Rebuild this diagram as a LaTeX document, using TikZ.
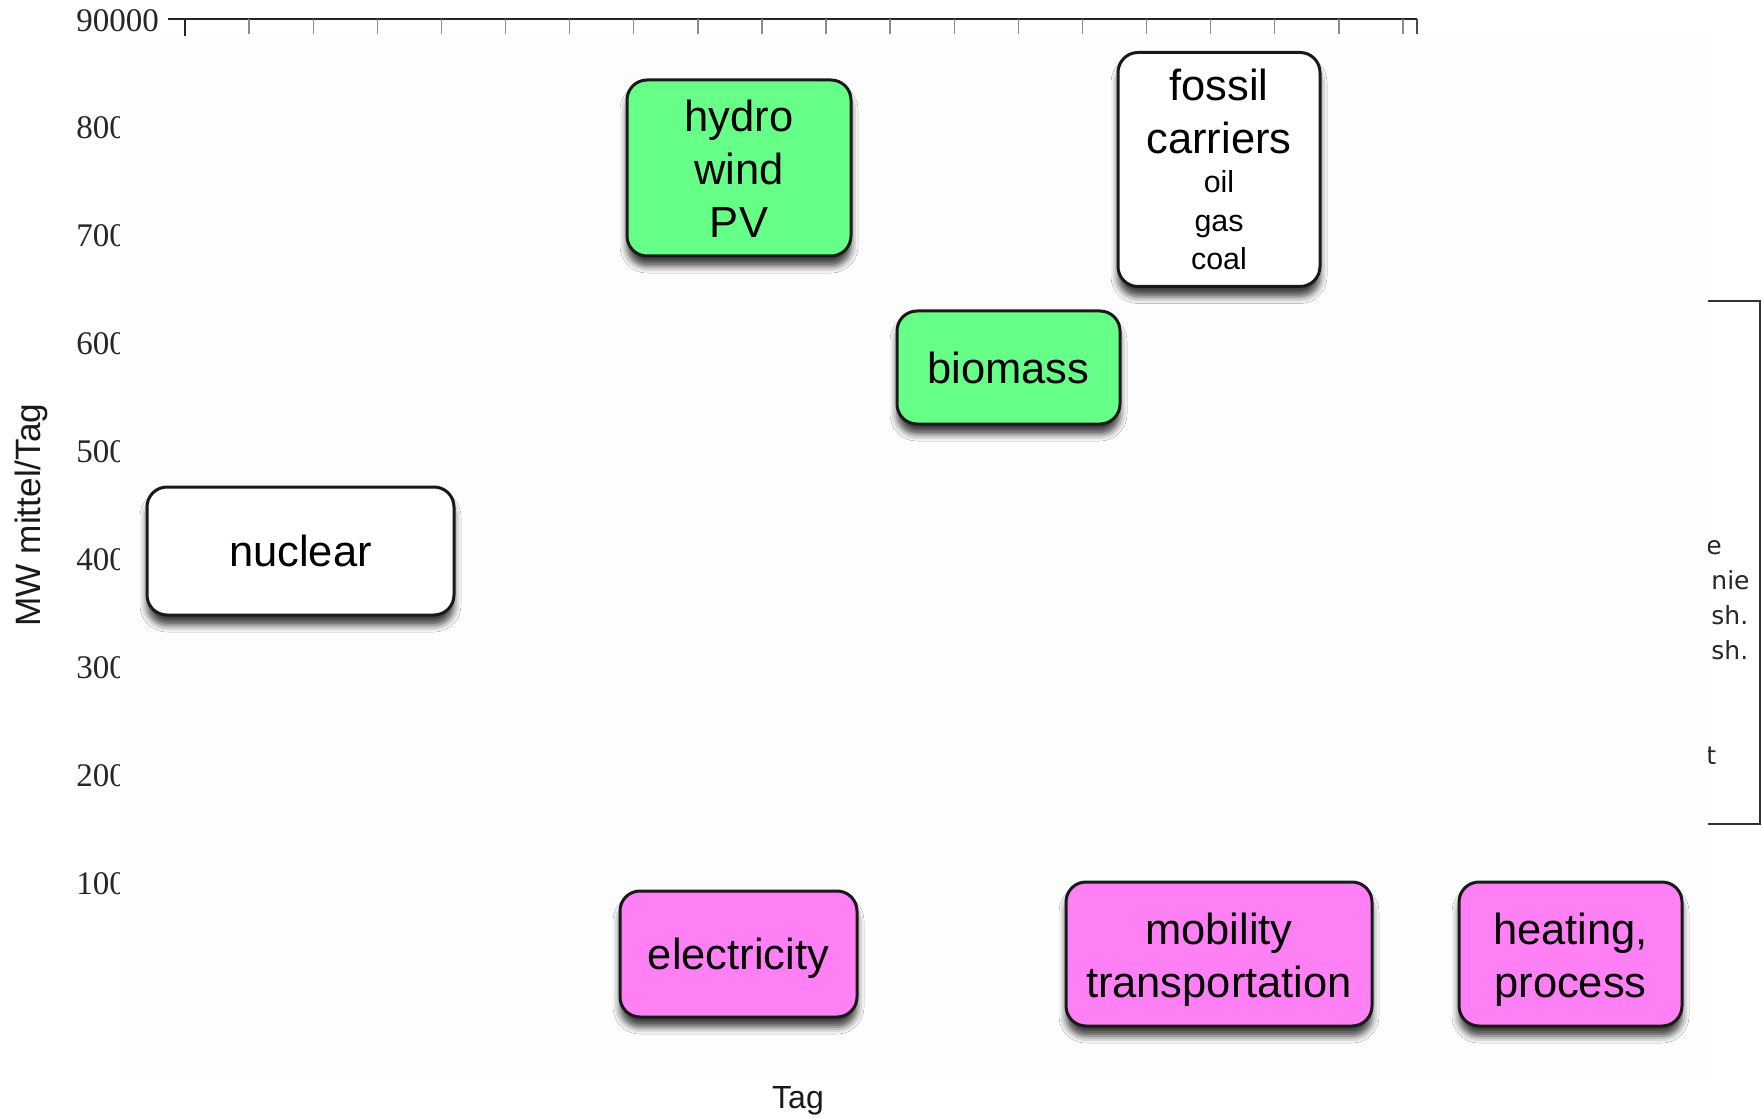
\documentclass[tikz,border=0pt]{standalone}
\usepackage{fontspec}
\setmainfont{Liberation Sans}
\newfontfamily\axisfont{Liberation Serif}
\newfontfamily\sidefont{DejaVu Sans}
\usetikzlibrary{shadows.blur}

\definecolor{renewgreen}{RGB}{102,255,136}
\definecolor{usepink}{RGB}{255,128,245}
\definecolor{panelgray}{RGB}{253,253,253}

\tikzset{
  card/.style={draw=black!90, line width=1.5pt, rounded corners=10pt,
    inner sep=0pt, align=center, font=\fontsize{21.75}{26.5}\selectfont,
    blur shadow={shadow xshift=0pt, shadow yshift=-5pt,
      shadow blur radius=3.5pt, shadow opacity=75}},
  plaincard/.style={card, fill=white},
  sourcecard/.style={card, fill=renewgreen},
  usecard/.style={card, fill=usepink},
  ticklabel/.style={anchor=west, inner sep=0pt,
    font=\axisfont\fontsize{16.5}{19}\selectfont, text=black!85},
  axistitle/.style={inner sep=0pt, text=black!90},
  sidetext/.style={anchor=base west, inner sep=0pt,
    font=\sidefont\fontsize{12.5}{15}\selectfont, text=black!85},
}

\newcommand{\smallline}[1]{{\fontsize{15.2}{18}\selectfont #1}}

\begin{document}
\begin{tikzpicture}[x=0.5pt,y=-0.5pt]
  \useasboundingbox (0,0) rectangle (1762,1118);
  \fill[white] (0,0) rectangle (1762,1118);

  % value labels of the vertical axis
  \node[ticklabel] (y90) at (76,21) {90000};
  \foreach \v/\yy in {800/128,700/236,600/344,500/452,400/560,300/668,200/776,100/884}
    \node[ticklabel] (y\v) at (76,\yy) {\v};

  % plot panel, covering the right part of the value labels
  \fill[panelgray] (120,38) rectangle (1708,1075);

  % top axis with its ticks
  \draw[line width=1.2pt, black!85] (168,19) -- (1417,19);
  \foreach \i in {1,...,19}
    \draw[line width=0.7pt, black!45] ({185+64.1*\i},19) -- ++(0,15);
  \draw[line width=1.2pt, black!85] (185,19) -- (185,36);
  \draw[line width=1pt, black!70] (1417,19) -- (1417,34);

  % axis titles
  \node[axistitle, rotate=90, font=\fontsize{17.6}{20}\selectfont] (ytitle) at (31,515) {MW mittel/Tag};
  \node[axistitle, font=\fontsize{16}{18}\selectfont] (xtitle) at (798,1101) {Tag};

  % bracket on the right edge with its clipped legend text
  \draw[line width=1pt, black!80] (1708,301) -- (1760,301) -- (1760,824) -- (1708,824);
  \begin{scope}
    \clip (1708,280) rectangle (1762,840);
    \node[sidetext] (s1) at (1706,554) {e};
    \node[sidetext] (s2) at (1711,589) {nie};
    \node[sidetext] (s3) at (1711,624) {sh.};
    \node[sidetext] (s4) at (1711,659) {sh.};
    \node[sidetext] (s5) at (1706,764) {t};
  \end{scope}

  % energy sources
  \node[plaincard, minimum width=153.5pt, minimum height=64pt] (nuclear) at (300.5,551) {nuclear};
  \node[sourcecard, minimum width=112pt, minimum height=88pt] (renew) at (739,168) {\rule{0pt}{17pt}hydro\\wind\\PV};
  \node[plaincard, minimum width=101pt, minimum height=117pt] (fossil) at (1219,169.5)
    {fossil\\carriers\\[-6.7pt]\smallline{oil}\\[-7.25pt]\smallline{gas}\\[-7.25pt]\smallline{coal}};
  \node[sourcecard, minimum width=111.5pt, minimum height=56.5pt] (biomass) at (1008.5,367.5) {biomass};

  % energy uses
  \node[usecard, minimum width=118.5pt, minimum height=63pt] (electricity) at (738.5,954) {\rule{0pt}{20.4pt}electricity};
  \node[usecard, minimum width=153pt, minimum height=72pt] (mobility) at (1219,954) {\rule{0pt}{21.5pt}mobility\\transportation};
  \node[usecard, minimum width=111.5pt, minimum height=72pt] (heating) at (1570.5,954) {\rule{0pt}{21.5pt}heating,\\process};
\end{tikzpicture}
\end{document}
